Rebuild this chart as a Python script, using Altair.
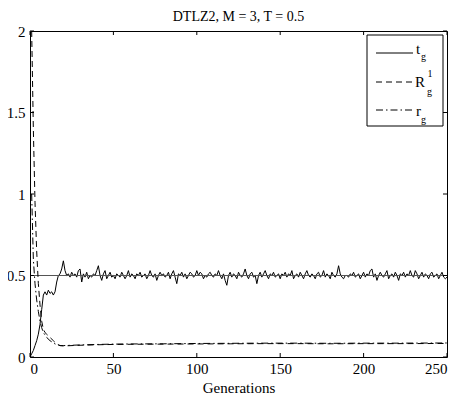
import altair as alt
import pandas as pd

# ---- data ----
t_vals = [
    0.00, 0.02, 0.04, 0.07, 0.10, 0.14, 0.20, 0.29, 0.38, 0.40, 0.38, 0.41, 0.39, 0.40, 0.38, 0.40, 0.46, 0.50, 0.51, 0.54, 0.59, 0.53,
    0.50, 0.51, 0.49, 0.52, 0.50, 0.51, 0.49, 0.53, 0.54, 0.46, 0.51, 0.49, 0.52, 0.48, 0.50, 0.49, 0.51, 0.50, 0.53, 0.56, 0.50, 0.47, 0.51, 0.53, 0.48, 0.50, 0.52, 0.49,
    0.50, 0.48, 0.51, 0.50, 0.49, 0.52, 0.50, 0.48, 0.50, 0.53, 0.49, 0.51, 0.50, 0.48, 0.51, 0.50, 0.52, 0.49, 0.50, 0.51, 0.48, 0.50, 0.53, 0.50, 0.49, 0.51, 0.47, 0.50, 0.52, 0.50,
    0.51, 0.49, 0.50, 0.52, 0.48, 0.51, 0.53, 0.49, 0.45, 0.51, 0.50, 0.52, 0.49, 0.51, 0.48, 0.50, 0.52, 0.51, 0.49, 0.50, 0.53, 0.50, 0.52, 0.51, 0.48, 0.50, 0.49, 0.51, 0.52, 0.50,
    0.49, 0.51, 0.50, 0.53, 0.50, 0.48, 0.51, 0.47, 0.44, 0.50, 0.52, 0.49, 0.51, 0.50, 0.48, 0.52, 0.50, 0.49, 0.51, 0.54, 0.50, 0.48, 0.51, 0.52, 0.49, 0.50, 0.45, 0.50, 0.52, 0.49,
    0.51, 0.53, 0.50, 0.48, 0.51, 0.50, 0.52, 0.49, 0.50, 0.51, 0.48, 0.51, 0.50, 0.52, 0.49, 0.51, 0.50, 0.53, 0.48, 0.50, 0.51, 0.49, 0.52, 0.50, 0.48, 0.51, 0.53, 0.50, 0.49, 0.51,
    0.50, 0.48, 0.51, 0.52, 0.49, 0.50, 0.53, 0.49, 0.51, 0.50, 0.48, 0.52, 0.50, 0.49, 0.51, 0.56, 0.51, 0.49, 0.48, 0.50, 0.50, 0.49, 0.51, 0.50, 0.52, 0.49, 0.50, 0.51, 0.48, 0.50,
    0.52, 0.49, 0.51, 0.50, 0.53, 0.54, 0.49, 0.51, 0.47, 0.50, 0.52, 0.50, 0.49, 0.51, 0.53, 0.48, 0.50, 0.51, 0.49, 0.52, 0.50, 0.47, 0.51, 0.50, 0.52, 0.49, 0.51, 0.50, 0.53, 0.50,
    0.49, 0.53, 0.51, 0.48, 0.50, 0.52, 0.49, 0.51, 0.50, 0.48, 0.51, 0.52, 0.49, 0.50, 0.51, 0.48, 0.50, 0.52, 0.49, 0.48, 0.49,
]
t_gens = list(range(len(t_vals)))

R_gens = [1, 2, 3, 4, 5, 6, 7, 8, 9, 10, 12, 14, 16, 18, 20, 30, 40, 50, 60, 80, 100, 120, 140, 160, 180, 200, 220, 250]
R_vals = [2.00, 1.40, 0.95, 0.65, 0.45, 0.32, 0.22, 0.17, 0.15, 0.14, 0.12, 0.10, 0.08, 0.07, 0.068, 0.072, 0.075, 0.077, 0.078, 0.079, 0.080, 0.081, 0.082, 0.082, 0.081, 0.082, 0.082, 0.083]

r_gens = [1, 2, 3, 4, 5, 6, 7, 8, 10, 12, 15, 18, 20, 30, 40, 50, 60, 80, 100, 120, 140, 160, 180, 200, 220, 250]
r_vals = [1.00, 0.60, 0.45, 0.35, 0.28, 0.22, 0.18, 0.15, 0.12, 0.10, 0.08, 0.07, 0.070, 0.074, 0.077, 0.079, 0.080, 0.081, 0.083, 0.084, 0.085, 0.085, 0.084, 0.085, 0.085, 0.086]

target = [0.5]
x_ticks = [0, 50, 100, 150, 200, 250]
y_ticks = [0, 0.5, 1, 1.5, 2]
title_text = "DTLZ2, M = 3, T = 0.5"

W, H = 417, 326
FONT = "Liberation Serif, Times New Roman, serif"

t_df = pd.DataFrame({"gen": t_gens, "val": t_vals})
R_df = pd.DataFrame({"gen": R_gens, "val": R_vals})
r_df = pd.DataFrame({"gen": r_gens, "val": r_vals})

xs = alt.Scale(domain=[0, 250], nice=False, zero=False)
ys = alt.Scale(domain=[0, 2], nice=False, zero=False)

x_axis = alt.Axis(values=x_ticks, title="Generations", ticks=False, domain=False, grid=False,
                  labelFont=FONT, labelFontSize=15, labelColor="black", labelPadding=4,
                  titleFont=FONT, titleFontSize=15, titleFontWeight="normal", titleColor="black", titlePadding=4)
y_axis = alt.Axis(values=y_ticks, title=None, ticks=False, domain=False, grid=False, format="~g",
                  labelFont=FONT, labelFontSize=15, labelColor="black", labelPadding=5)

base_t = alt.Chart(t_df).mark_line(color="black", strokeWidth=1, clip=True).encode(
    x=alt.X("gen:Q", scale=xs, axis=x_axis),
    y=alt.Y("val:Q", scale=ys, axis=y_axis),
)

target_line = alt.Chart(pd.DataFrame({"v": target})).mark_rule(color="#555555", strokeWidth=1).encode(
    y=alt.Y("v:Q", scale=ys), x=alt.value(0), x2=alt.value(W)
)

R_line = alt.Chart(R_df).mark_line(color="black", strokeWidth=1, strokeDash=[6, 4], clip=True).encode(
    x=alt.X("gen:Q", scale=xs), y=alt.Y("val:Q", scale=ys)
)
r_line = alt.Chart(r_df).mark_line(color="black", strokeWidth=1, strokeDash=[7, 3, 1.5, 3], clip=True).encode(
    x=alt.X("gen:Q", scale=xs), y=alt.Y("val:Q", scale=ys)
)

xt_df = pd.DataFrame({"t": x_ticks})
yt_df = pd.DataFrame({"t": y_ticks})
TL = 4
xt_bot = alt.Chart(xt_df).mark_rule(color="black", strokeWidth=1).encode(
    x=alt.X("t:Q", scale=xs), y=alt.value(H), y2=alt.value(H - TL))
xt_top = alt.Chart(xt_df).mark_rule(color="black", strokeWidth=1).encode(
    x=alt.X("t:Q", scale=xs), y=alt.value(0), y2=alt.value(TL))
yt_left = alt.Chart(yt_df).mark_rule(color="black", strokeWidth=1).encode(
    y=alt.Y("t:Q", scale=ys), x=alt.value(0), x2=alt.value(TL))
yt_right = alt.Chart(yt_df).mark_rule(color="black", strokeWidth=1).encode(
    y=alt.Y("t:Q", scale=ys), x=alt.value(W), x2=alt.value(W - TL))

# ---- legend (drawn by hand, MATLAB style) ----
one = pd.DataFrame({"k": [0]})
leg_box = alt.Chart(one).mark_rect(fill="white", stroke="black", strokeWidth=1).encode(
    x=alt.value(337), x2=alt.value(413), y=alt.value(4), y2=alt.value(95))
leg_t = alt.Chart(one).mark_rule(color="black", strokeWidth=1).encode(
    x=alt.value(346), x2=alt.value(383), y=alt.value(22))
leg_R = alt.Chart(one).mark_rule(color="black", strokeWidth=1, strokeDash=[6, 4]).encode(
    x=alt.value(346), x2=alt.value(383), y=alt.value(51))
leg_r = alt.Chart(one).mark_rule(color="black", strokeWidth=1, strokeDash=[7, 3, 1.5, 3]).encode(
    x=alt.value(346), x2=alt.value(383), y=alt.value(79))


def txt(s, x, y, size, align="left"):
    return alt.Chart(one).mark_text(text=s, font=FONT, fontSize=size, color="black",
                                    align=align, baseline="alphabetic").encode(
        x=alt.value(x), y=alt.value(y))


legend_texts = [
    txt("t", 386, 23, 15), txt("g", 391, 29, 10),
    txt("R", 385, 56, 15), txt("1", 397.5, 46, 10), txt("g", 397, 64, 10),
    txt("r", 386, 85, 15), txt("g", 391, 92, 10),
]

title_mark = txt(title_text, W / 2, -10, 14, align="center")

chart = alt.layer(
    base_t, target_line, R_line, r_line,
    xt_bot, xt_top, yt_left, yt_right,
    leg_box, leg_t, leg_R, leg_r, *legend_texts, title_mark,
).properties(
    width=W, height=H,
    autosize=alt.AutoSizeParams(type="none"),
    padding={"left": 22, "top": 23, "right": 2, "bottom": 40},
).configure_view(stroke="black", strokeWidth=1)

chart.save("out.html", embed_options={"renderer": "svg", "actions": False})
